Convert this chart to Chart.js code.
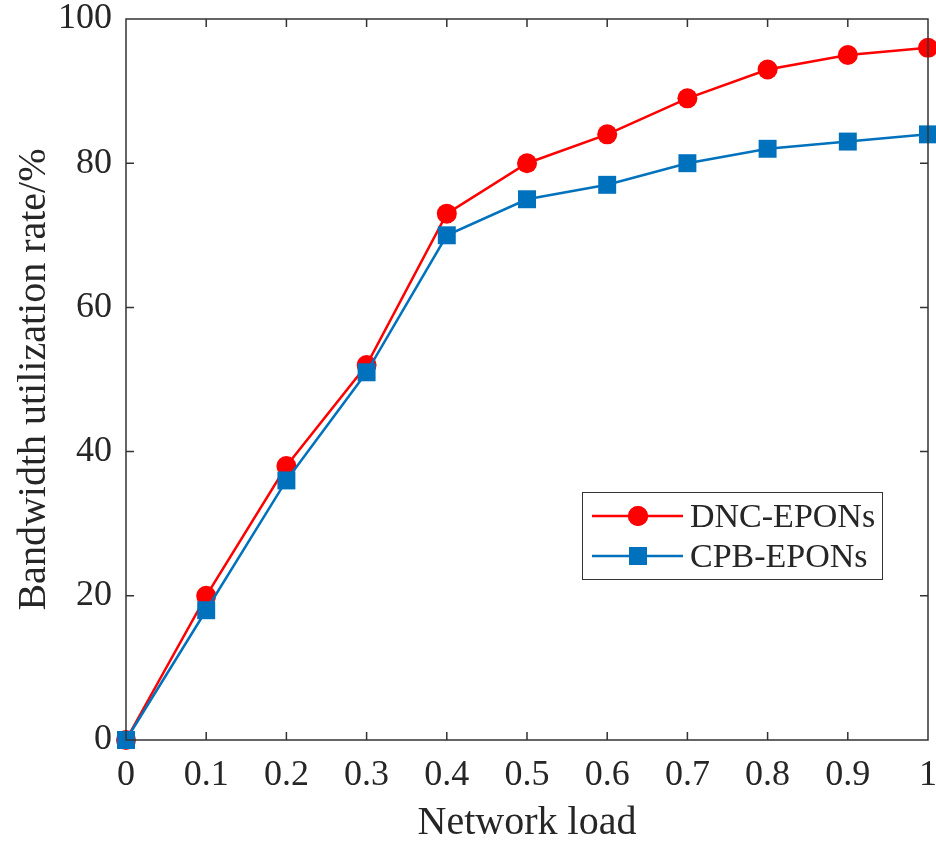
<!DOCTYPE html>
<html>
<head>
<meta charset="utf-8">
<script src="https://cdn.jsdelivr.net/npm/chart.js@4/dist/chart.umd.min.js"></script>
<style>
  html, body { margin: 0; padding: 0; background: #fff; }
  #wrap { width: 936px; height: 843px; }
</style>
</head>
<body>
<div id="wrap"><canvas id="chart"></canvas></div>
<script>
// Data
const loads = [0, 0.1, 0.2, 0.3, 0.4, 0.5, 0.6, 0.7, 0.8, 0.9, 1];
const dncValues = [0, 20, 38, 52, 73, 80, 84, 89, 93, 95, 96];
const cpbValues = [0, 18, 36, 51, 70, 75, 77, 80, 82, 83, 84];
const xTicks = [0, 0.1, 0.2, 0.3, 0.4, 0.5, 0.6, 0.7, 0.8, 0.9, 1];
const yTicks = [0, 20, 40, 60, 80, 100];

const FONT = '"Liberation Serif", "Times New Roman", serif';
const AXIS_COLOR = '#333333';
const TEXT_COLOR = '#262626';

// Box around the plot + inward tick marks on all four sides (MATLAB style)
const boxPlugin = {
    id: 'boxPlugin',
    afterDatasetsDraw(chart) {
        const { ctx, chartArea: a, scales: { x, y } } = chart;
        const len = 8;
        ctx.save();
        ctx.strokeStyle = AXIS_COLOR;
        ctx.lineWidth = 1.5;
        ctx.beginPath();
        ctx.rect(a.left, a.top, a.right - a.left, a.bottom - a.top);
        xTicks.forEach(v => {
            const px = x.getPixelForValue(v);
            ctx.moveTo(px, a.bottom); ctx.lineTo(px, a.bottom - len);
            ctx.moveTo(px, a.top); ctx.lineTo(px, a.top + len);
        });
        yTicks.forEach(v => {
            const py = y.getPixelForValue(v);
            ctx.moveTo(a.left, py); ctx.lineTo(a.left + len, py);
            ctx.moveTo(a.right, py); ctx.lineTo(a.right - len, py);
        });
        ctx.stroke();
        ctx.restore();
    }
};

// Legend box inside the plot, lower right
const legendPlugin = {
    id: 'legendPlugin',
    afterDraw(chart) {
        const { ctx } = chart;
        const bx = 582, by = 492, bw = 300, bh = 87;
        ctx.save();
        ctx.fillStyle = '#fff';
        ctx.fillRect(bx, by, bw, bh);
        ctx.strokeStyle = AXIS_COLOR;
        ctx.lineWidth = 1;
        ctx.strokeRect(bx + 0.5, by + 0.5, bw, bh);
        ctx.font = '34px ' + FONT;
        ctx.textBaseline = 'middle';
        ctx.textAlign = 'left';
        chart.data.datasets.forEach((ds, i) => {
            const cy = by + 24 + i * 40;
            ctx.strokeStyle = ds.borderColor;
            ctx.lineWidth = ds.borderWidth;
            ctx.beginPath();
            ctx.moveTo(bx + 10, cy); ctx.lineTo(bx + 101, cy);
            ctx.stroke();
            ctx.fillStyle = ds.pointBackgroundColor;
            Chart.helpers.drawPoint(ctx, {
                pointStyle: ds.pointStyle, radius: ds.pointRadius, borderWidth: 0
            }, bx + 56, cy);
            ctx.fill();
            ctx.fillStyle = TEXT_COLOR;
            ctx.fillText(ds.label, bx + 108, cy + 2);
        });
        ctx.restore();
    }
};

new Chart(document.getElementById('chart'), {
    type: 'line',
    data: {
        datasets: [{
            label: 'DNC-EPONs',
            data: loads.map((v, i) => ({ x: v, y: dncValues[i] })),
            borderColor: '#ff0000',
            backgroundColor: '#ff0000',
            pointBackgroundColor: '#ff0000',
            pointBorderColor: '#ff0000',
            borderWidth: 2.5,
            pointStyle: 'circle',
            pointRadius: 10,
            pointBorderWidth: 0,
            tension: 0,
            clip: false,
            order: 1
        }, {
            label: 'CPB-EPONs',
            data: loads.map((v, i) => ({ x: v, y: cpbValues[i] })),
            borderColor: '#0072bd',
            backgroundColor: '#0072bd',
            pointBackgroundColor: '#0072bd',
            pointBorderColor: '#0072bd',
            borderWidth: 2.5,
            pointStyle: 'rect',
            pointRadius: 12.7,
            pointBorderWidth: 0,
            tension: 0,
            clip: false,
            order: 0
        }]
    },
    options: {
        responsive: true,
        maintainAspectRatio: false,
        animation: false,
        layout: { autoPadding: false, padding: { left: 0, right: 8, top: 19, bottom: 0 } },
        plugins: {
            legend: { display: false },
            tooltip: { enabled: false }
        },
        scales: {
            x: {
                type: 'linear',
                min: 0,
                max: 1,
                afterBuildTicks: s => { s.ticks = xTicks.map(v => ({ value: v })); },
                afterFit: s => { s.height = 103; s.paddingLeft = 0; s.paddingRight = 0; },
                grid: { display: false, drawTicks: false },
                border: { display: false },
                ticks: {
                    padding: 14,
                    color: TEXT_COLOR,
                    font: { family: FONT, size: 36 },
                    maxRotation: 0,
                    autoSkip: false,
                    callback: v => String(v)
                },
                title: {
                    display: true,
                    text: 'Network load',
                    color: TEXT_COLOR,
                    font: { family: FONT, size: 40, lineHeight: 1 },
                    padding: { top: 0, bottom: 0 }
                }
            },
            y: {
                type: 'linear',
                min: 0,
                max: 100,
                afterBuildTicks: s => { s.ticks = yTicks.map(v => ({ value: v })); },
                afterFit: s => { s.width = 126; s.paddingTop = 0; s.paddingBottom = 0; },
                grid: { display: false, drawTicks: false },
                border: { display: false },
                ticks: {
                    padding: 14,
                    color: TEXT_COLOR,
                    font: { family: FONT, size: 36 }
                },
                title: {
                    display: true,
                    text: 'Bandwidth utilization rate/%',
                    color: TEXT_COLOR,
                    font: { family: FONT, size: 40, lineHeight: 1 },
                    padding: { top: 14, bottom: 0 }
                }
            }
        }
    },
    plugins: [boxPlugin, legendPlugin]
});
</script>
</body>
</html>
